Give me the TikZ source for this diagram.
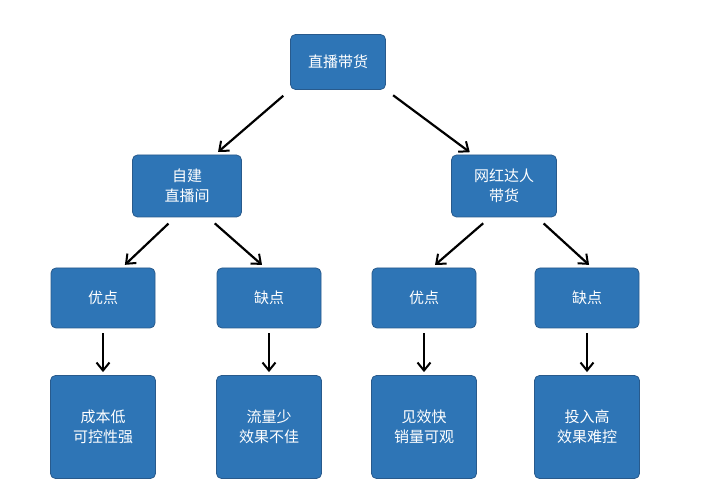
\documentclass[tikz,border=0pt]{standalone}
\usepackage{fontspec}
\setmainfont{Noto Sans CJK SC}
\usetikzlibrary{arrows.meta}
\begin{document}
\begin{tikzpicture}[x=1pt,y=-1pt,
 box/.style={draw={rgb,255:red,40;green,90;blue,140}, line width=0.8pt, fill={rgb,255:red,46;green,117;blue,182}, rounded corners=5pt, text=white, font=\fontsize{15}{20}\selectfont, align=center, inner sep=0pt},
 arr/.style={-{Straight Barb[length=8pt,width=13pt,line width=2pt]}, line width=2.2pt, shorten <=9pt, shorten >=4pt}]
\useasboundingbox (0,0) rectangle (716,492);
\node[box, minimum width=95pt, minimum height=55pt] (top) at (338,62) {直播带货};
\node[box, minimum width=109pt, minimum height=62pt] (zj) at (187,186) {自建\\直播间};
\node[box, minimum width=105pt, minimum height=62pt] (wh) at (504,186) {网红达人\\带货};
\foreach \n/\x/\t in {a/103/优点, b/269/缺点, c/424/优点, d/587/缺点}
  \node[box, minimum width=104pt, minimum height=60pt] (\n) at (\x,298) {\t};
\node[box, minimum width=105pt, minimum height=103pt] (a2) at (103,427) {成本低\\可控性强};
\node[box, minimum width=105pt, minimum height=103pt] (b2) at (269,427) {流量少\\效果不佳};
\node[box, minimum width=105pt, minimum height=103pt] (c2) at (424,427) {见效快\\销量可观};
\node[box, minimum width=105pt, minimum height=103pt] (d2) at (587,427) {投入高\\效果难控};
\draw[arr] (top.south west) -- ([xshift=28pt]zj.north);
\draw[arr] (top.south east) -- ([xshift=-31pt]wh.north);
\draw[arr] ([xshift=-12pt]zj.south) -- ([xshift=19pt]a.north);
\draw[arr] ([xshift=21pt]zj.south) -- ([xshift=-4pt]b.north);
\draw[arr] ([xshift=-14pt]wh.south) -- ([xshift=8pt]c.north);
\draw[arr] ([xshift=33pt]wh.south) -- ([xshift=5pt]d.north);
\foreach \n in {a,b,c,d} \draw[arr, shorten <=5pt, shorten >=3pt] (\n) -- (\n2);
\end{tikzpicture}
\end{document}
